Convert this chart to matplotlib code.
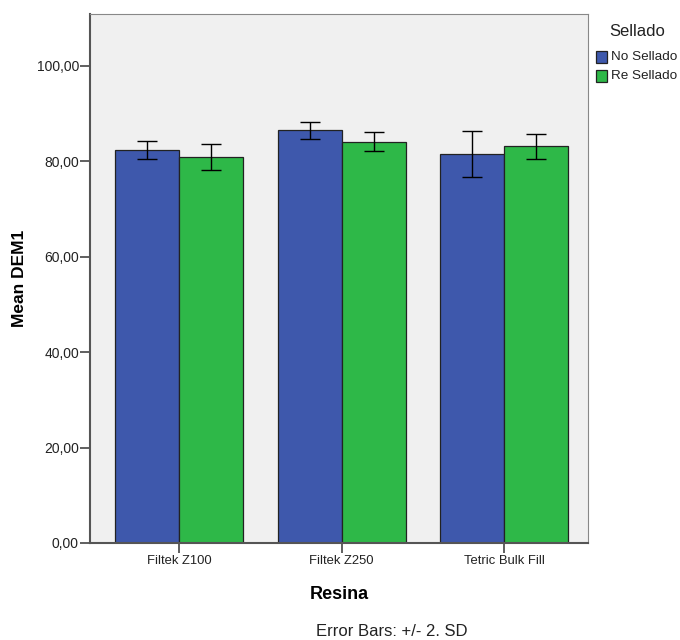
import matplotlib
matplotlib.use("Agg")
import matplotlib.pyplot as plt
import numpy as np
from matplotlib.patches import Rectangle

plt.rcParams['font.family'] = ['Liberation Sans', 'DejaVu Sans']

categories = ["Filtek Z100", "Filtek Z250", "Tetric Bulk Fill"]
series_names = ["No Sellado", "Re Sellado"]
means_no = [82.45, 86.5, 81.6]
means_re = [80.9, 84.1, 83.2]
err_no = [1.9, 1.85, 4.85]
err_re = [2.7, 2.0, 2.6]
colors = ["#3E58AC", "#2EB848"]
yticks = [0, 20, 40, 60, 80, 100]

W, H = 680, 640
fig = plt.figure(figsize=(6.8, 6.4), dpi=100)
ax = fig.add_axes([90/W, 97/H, 498/W, 529/H])
ax.set_facecolor("#F0F0F0")

x = np.arange(len(categories))
w = 0.394
for i, (m, e) in enumerate([(means_no, err_no), (means_re, err_re)]):
    pos = x + (i - 0.5) * w
    ax.bar(pos, m, width=w, color=colors[i], edgecolor="#222222", linewidth=0.9, zorder=2)
    ax.errorbar(pos, m, yerr=e, fmt="none", ecolor="black", elinewidth=1.0,
                capsize=7, capthick=1.0, zorder=3)

ax.set_xlim(-0.548, 2.517)
ax.set_ylim(0, 110.9)
ax.set_yticks(yticks)
ax.set_yticklabels([f"{v:.2f}".replace(".", ",") for v in yticks], fontsize=10, color="#222222")
ax.set_xticks(x)
ax.set_xticklabels(categories, fontsize=9.4, color="#222222")
ax.tick_params(axis="y", length=7, width=1.2, color="#444444", pad=1)
ax.tick_params(axis="x", length=7, width=1.2, color="#444444", pad=2)

for s in ["left", "bottom"]:
    ax.spines[s].set_color("#555555")
    ax.spines[s].set_linewidth(1.5)
for s in ["top", "right"]:
    ax.spines[s].set_color("#888888")
    ax.spines[s].set_linewidth(0.8)

ax.set_ylabel("Mean DEM1", fontsize=12.5, fontweight="bold", labelpad=7)
ax.set_xlabel("Resina", fontsize=13, fontweight="bold", labelpad=13)

# legend drawn manually in figure pixel coordinates
fig.text(637.5/W, 1 - 32/H, "Sellado", ha="center", va="center", fontsize=12, color="#222222")
for i, name in enumerate(series_names):
    yc = 57 + i * 19
    fig.patches.append(Rectangle((596/W, 1 - (yc + 6)/H), 11/W, 12/H, transform=fig.transFigure,
                                 facecolor=colors[i], edgecolor="#222222", linewidth=0.9))
    fig.text(611/W, 1 - yc/H, name, ha="left", va="center", fontsize=9.7, color="#222222")

fig.text(392/W, 1 - 632/H, "Error Bars: +/- 2. SD", ha="center", va="center", fontsize=12, color="#222222")

fig.savefig("out.png", dpi=100, facecolor="white")
